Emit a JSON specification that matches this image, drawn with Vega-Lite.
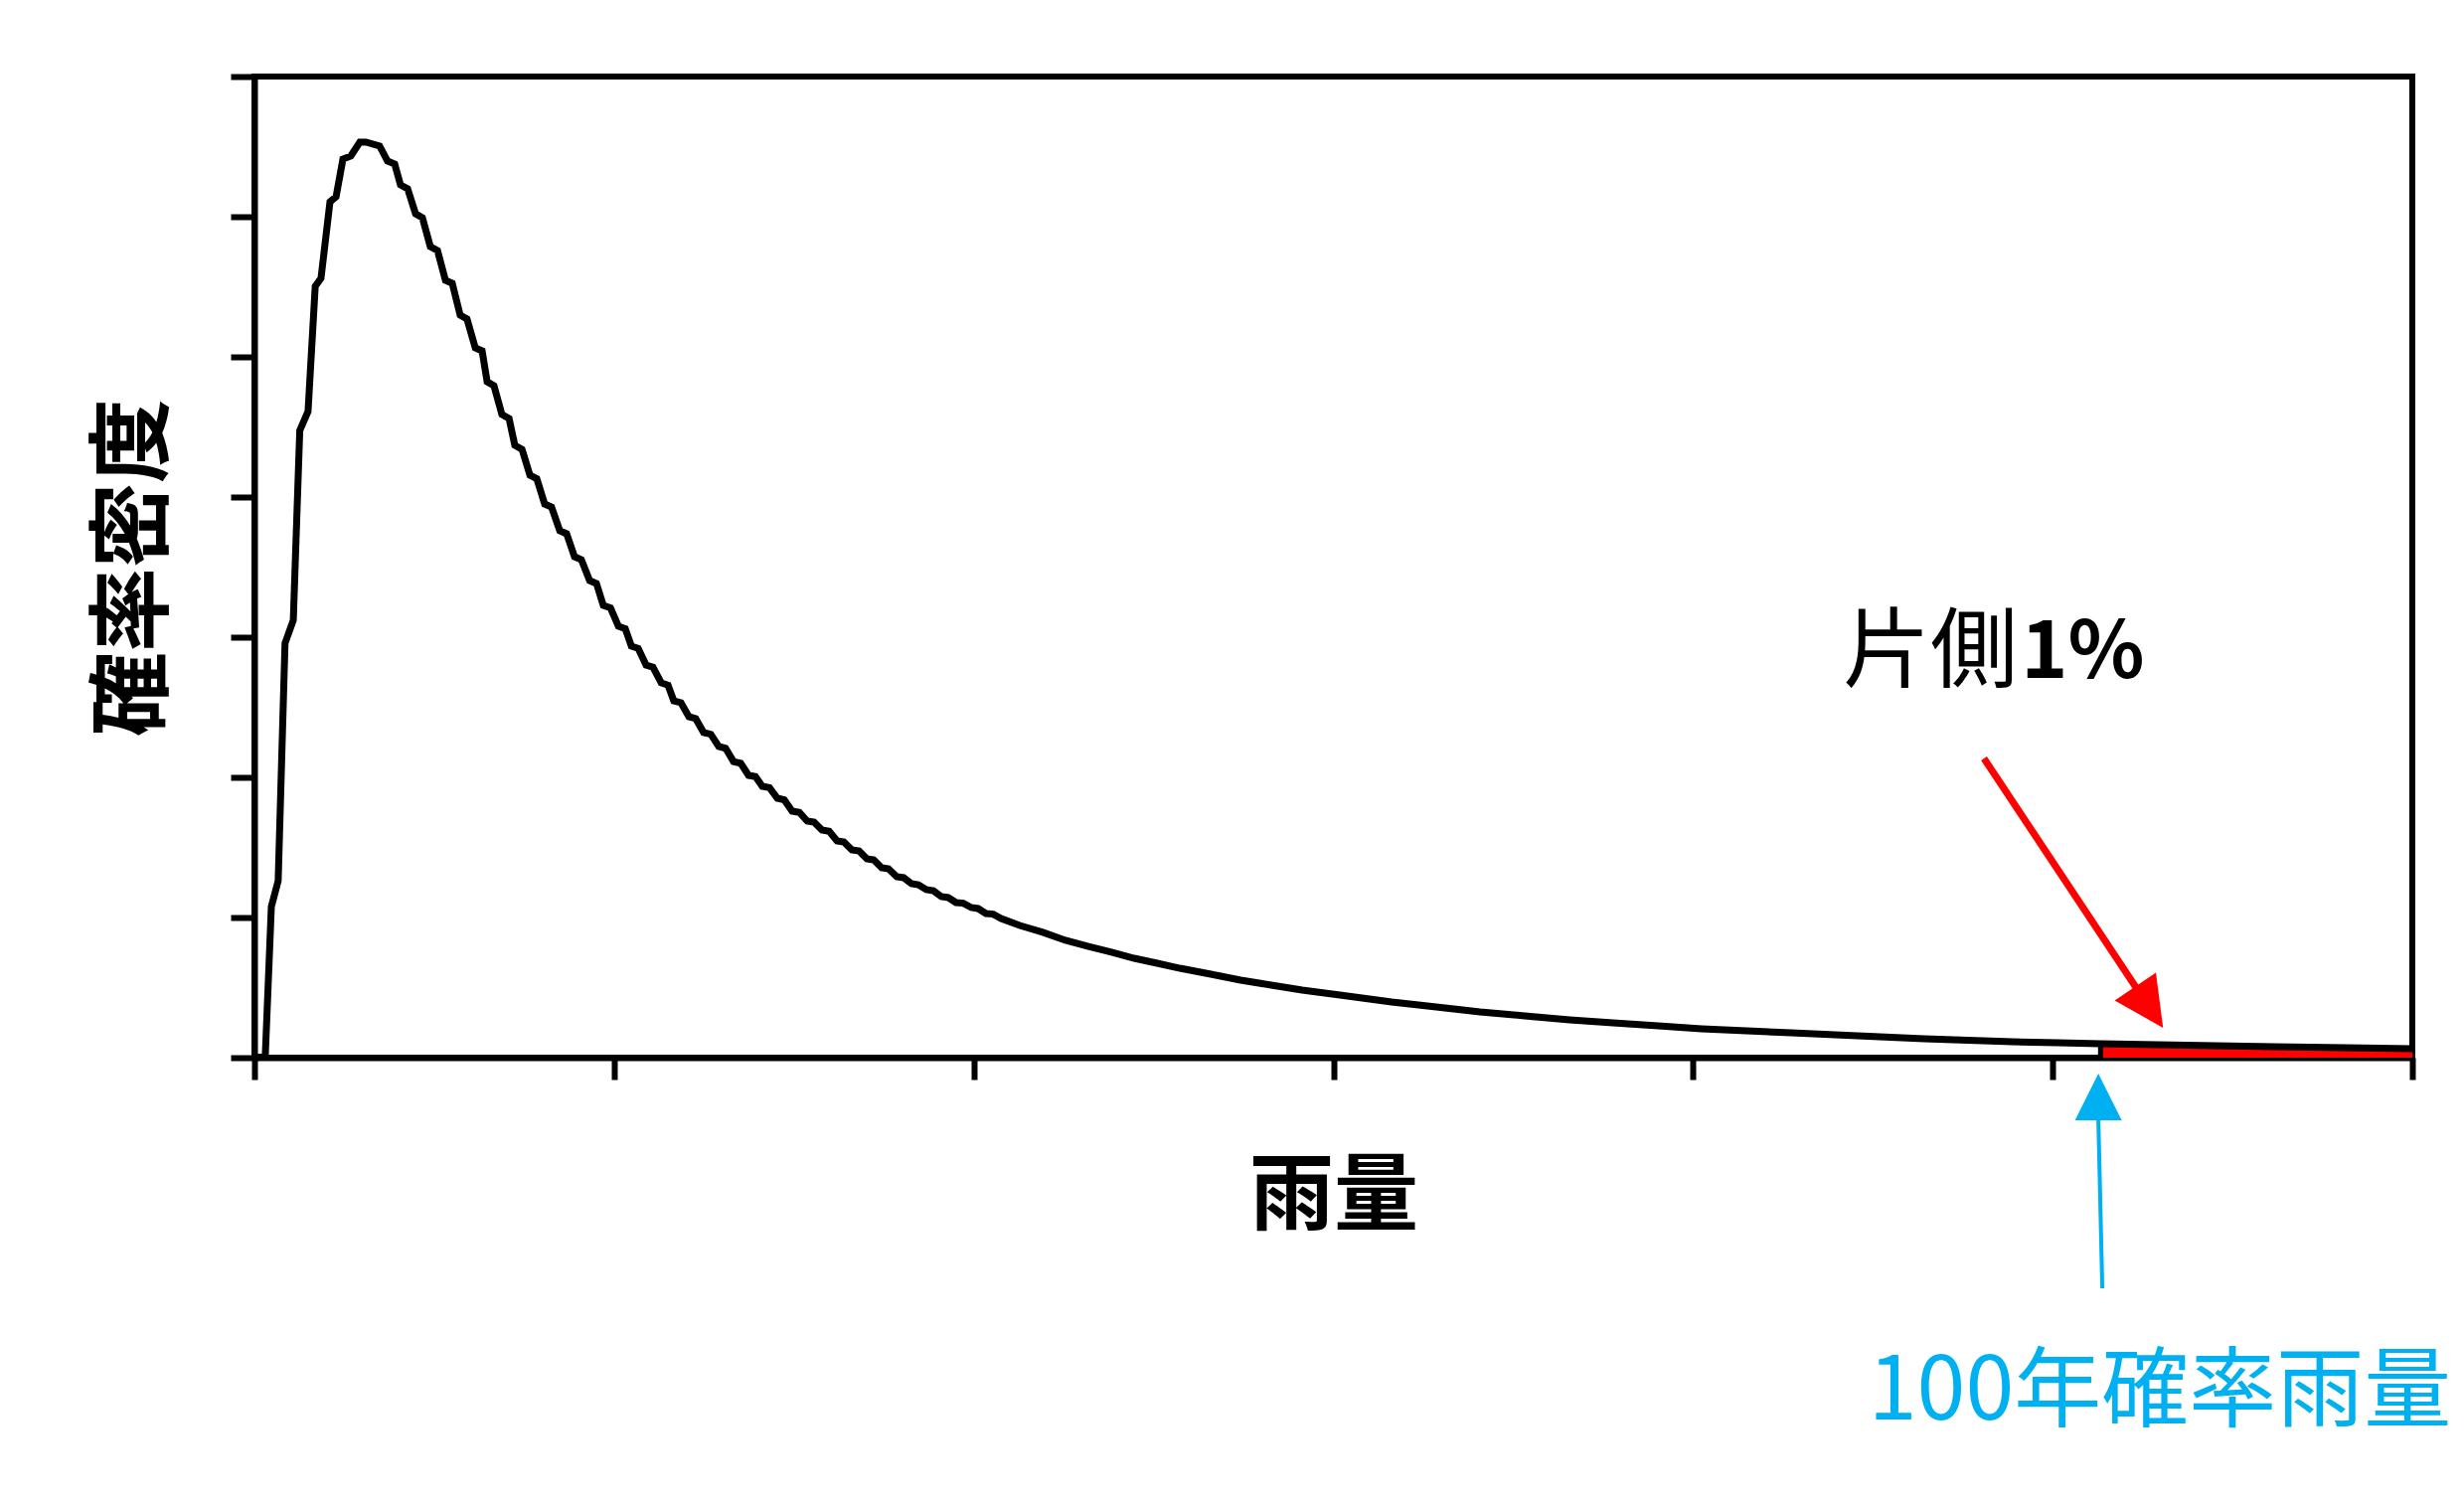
{
  "$schema": "https://vega.github.io/schema/vega-lite/v6.json",
  "width": 2171,
  "height": 987,
  "autosize": {"type": "none"},
  "padding": {"left": 256, "top": 77, "right": 52, "bottom": 446},
  "background": "white",
  "config": {
    "font": "Noto Sans CJK JP",
    "view": {"stroke": "black", "strokeWidth": 6}
  },
  "datasets": {
    "curve": [
      {"x":0,"y":0},{"x":0.030,"y":0.007},{"x":0.047,"y":1.078},{"x":0.066,"y":1.262},{"x":0.085,"y":2.957},{"x":0.108,"y":3.121},
      {"x":0.126,"y":4.475},{"x":0.149,"y":4.610},{"x":0.169,"y":5.504},{"x":0.185,"y":5.560},{"x":0.210,"y":6.106},{"x":0.227,"y":6.142},
      {"x":0.246,"y":6.411},{"x":0.268,"y":6.433},{"x":0.293,"y":6.532},{"x":0.310,"y":6.532},{"x":0.348,"y":6.504},{"x":0.370,"y":6.397},
      {"x":0.390,"y":6.376},{"x":0.406,"y":6.227},{"x":0.426,"y":6.199},{"x":0.448,"y":6.021},{"x":0.467,"y":5.993},{"x":0.489,"y":5.787},
      {"x":0.509,"y":5.759},{"x":0.531,"y":5.546},{"x":0.550,"y":5.525},{"x":0.572,"y":5.298},{"x":0.591,"y":5.270},{"x":0.614,"y":5.064},
      {"x":0.633,"y":5.043},{"x":0.647,"y":4.823},{"x":0.666,"y":4.794},{"x":0.688,"y":4.589},{"x":0.708,"y":4.560},{"x":0.724,"y":4.369},
      {"x":0.744,"y":4.340},{"x":0.766,"y":4.156},{"x":0.785,"y":4.131},{"x":0.807,"y":3.950},{"x":0.826,"y":3.929},{"x":0.849,"y":3.759},
      {"x":0.868,"y":3.738},{"x":0.890,"y":3.574},{"x":0.909,"y":3.553},{"x":0.932,"y":3.404},{"x":0.951,"y":3.383},{"x":0.970,"y":3.227},
      {"x":0.990,"y":3.209},{"x":1.012,"y":3.078},{"x":1.031,"y":3.061},{"x":1.048,"y":2.936},{"x":1.067,"y":2.920},{"x":1.089,"y":2.801},
      {"x":1.108,"y":2.786},{"x":1.131,"y":2.674},{"x":1.150,"y":2.658},{"x":1.166,"y":2.546},{"x":1.186,"y":2.532},{"x":1.208,"y":2.433},
      {"x":1.227,"y":2.419},{"x":1.249,"y":2.319},{"x":1.269,"y":2.307},{"x":1.291,"y":2.220},{"x":1.310,"y":2.207},{"x":1.332,"y":2.113},
      {"x":1.352,"y":2.101},{"x":1.374,"y":2.014},{"x":1.393,"y":2.005},{"x":1.412,"y":1.936},{"x":1.432,"y":1.926},{"x":1.454,"y":1.851},
      {"x":1.473,"y":1.840},{"x":1.495,"y":1.759},{"x":1.515,"y":1.750},{"x":1.537,"y":1.688},{"x":1.556,"y":1.681},{"x":1.578,"y":1.624},
      {"x":1.598,"y":1.615},{"x":1.620,"y":1.546},{"x":1.639,"y":1.539},{"x":1.661,"y":1.482},{"x":1.681,"y":1.475},{"x":1.703,"y":1.418},
      {"x":1.722,"y":1.411},{"x":1.744,"y":1.355},{"x":1.763,"y":1.348},{"x":1.786,"y":1.291},{"x":1.805,"y":1.284},{"x":1.827,"y":1.241},
      {"x":1.846,"y":1.234},{"x":1.868,"y":1.199},{"x":1.888,"y":1.191},{"x":1.910,"y":1.149},{"x":1.929,"y":1.142},{"x":1.951,"y":1.106},
      {"x":1.971,"y":1.102},{"x":1.993,"y":1.071},{"x":2.012,"y":1.064},{"x":2.034,"y":1.028},{"x":2.054,"y":1.024},{"x":2.076,"y":0.993},
      {"x":2.128,"y":0.943},{"x":2.192,"y":0.894},{"x":2.255,"y":0.837},{"x":2.319,"y":0.794},{"x":2.383,"y":0.752},{"x":2.446,"y":0.709},
      {"x":2.510,"y":0.674},{"x":2.573,"y":0.638},{"x":2.659,"y":0.596},{"x":2.742,"y":0.553},{"x":2.827,"y":0.518},{"x":2.913,"y":0.482},
      {"x":3.018,"y":0.447},{"x":3.162,"y":0.397},{"x":3.286,"y":0.362},{"x":3.408,"y":0.326},{"x":3.532,"y":0.298},{"x":3.657,"y":0.270},
      {"x":3.778,"y":0.248},{"x":3.903,"y":0.227},{"x":4.024,"y":0.206},{"x":4.149,"y":0.191},{"x":4.273,"y":0.177},{"x":4.395,"y":0.163},
      {"x":4.519,"y":0.149},{"x":4.643,"y":0.135},{"x":4.765,"y":0.124},{"x":4.889,"y":0.113},{"x":5.014,"y":0.106},{"x":5.133,"y":0.099},
      {"x":5.373,"y":0.089},{"x":5.616,"y":0.078},{"x":5.815,"y":0.071},{"x":6.0,"y":0.064}
    ],
    "tail": [
      {"x":5.133,"y":0.099},{"x":5.373,"y":0.089},{"x":5.616,"y":0.078},{"x":5.815,"y":0.071},{"x":6.0,"y":0.064}
    ],
    "edge": [{"x":5.133,"y":0,"y2":0.099}],
    "redShaft": [{"x":4.809,"y":2.135,"x2":5.232,"y2":0.500}],
    "redHead": [{"x":5.307,"y":0.213}],
    "blueShaft": [{"x":5.127,"y":-0.44,"x2":5.138,"y2":-1.645}],
    "blueHead": [{"x":5.127,"y":-0.113}],
    "labelTail": [{"x":4.903,"y":2.876,"label":"片側"}],
    "labelPct": [{"x":4.912,"y":2.876,"label":"1%"}],
    "labelReturn": [{"x":5.298,"y":-2.397,"label":"100年確率雨量"}]
  },
  "layer": [
    {
      "data": {"name": "tail"},
      "mark": {"type": "area", "color": "#FF0000", "opacity": 1},
      "encoding": {
        "x": {
          "field": "x", "type": "quantitative",
          "scale": {"domain": [0, 6], "nice": false, "zero": false},
          "axis": {
            "title": "雨量", "values": [0, 1, 2, 3, 4, 5, 6], "labels": false, "grid": false,
            "tickSize": 22, "tickWidth": 6, "tickColor": "black",
            "domainColor": "black", "domainWidth": 6,
            "titleFont": "Noto Sans CJK JP", "titleFontSize": 85, "titleFontWeight": "bold",
            "titleColor": "black", "titlePadding": 74
          }
        },
        "y": {
          "field": "y", "type": "quantitative",
          "scale": {"domain": [0, 7], "nice": false, "zero": false},
          "axis": {
            "title": "確率密度", "values": [0, 1, 2, 3, 4, 5, 6, 7], "labels": false, "grid": false,
            "tickSize": 24, "tickWidth": 6, "tickColor": "black",
            "domainColor": "black", "domainWidth": 6,
            "titleFont": "Noto Sans CJK JP", "titleFontSize": 85, "titleFontWeight": "bold",
            "titleColor": "black", "titlePadding": 50
          }
        }
      }
    },
    {
      "data": {"name": "edge"},
      "mark": {"type": "rule", "color": "black", "strokeWidth": 5},
      "encoding": {
        "x": {"field": "x", "type": "quantitative"},
        "y": {"field": "y", "type": "quantitative"},
        "y2": {"field": "y2"}
      }
    },
    {
      "data": {"name": "curve"},
      "mark": {"type": "line", "color": "black", "strokeWidth": 7},
      "encoding": {
        "x": {"field": "x", "type": "quantitative"},
        "y": {"field": "y", "type": "quantitative"}
      }
    },
    {
      "data": {"name": "redShaft"},
      "mark": {"type": "rule", "color": "#FF0000", "strokeWidth": 7},
      "encoding": {
        "x": {"field": "x", "type": "quantitative"},
        "y": {"field": "y", "type": "quantitative"},
        "x2": {"field": "x2"},
        "y2": {"field": "y2"}
      }
    },
    {
      "data": {"name": "redHead"},
      "mark": {"type": "point", "shape": "M0,0L-0.5,1L0.5,1Z", "filled": true, "color": "#FF0000", "opacity": 1, "size": 10000, "angle": 146, "strokeWidth": 0},
      "encoding": {
        "x": {"field": "x", "type": "quantitative"},
        "y": {"field": "y", "type": "quantitative"}
      }
    },
    {
      "data": {"name": "blueShaft"},
      "mark": {"type": "rule", "color": "#00B0F0", "strokeWidth": 4},
      "encoding": {
        "x": {"field": "x", "type": "quantitative"},
        "y": {"field": "y", "type": "quantitative"},
        "x2": {"field": "x2"},
        "y2": {"field": "y2"}
      }
    },
    {
      "data": {"name": "blueHead"},
      "mark": {"type": "point", "shape": "M0,0L-0.5,1L0.5,1Z", "filled": true, "color": "#00B0F0", "opacity": 1, "size": 8836, "angle": 0, "strokeWidth": 0},
      "encoding": {
        "x": {"field": "x", "type": "quantitative"},
        "y": {"field": "y", "type": "quantitative"}
      }
    },
    {
      "data": {"name": "labelTail"},
      "mark": {"type": "text", "font": "Noto Sans CJK JP", "fontSize": 88, "fontWeight": "normal", "color": "black", "align": "right", "baseline": "middle"},
      "encoding": {
        "x": {"field": "x", "type": "quantitative"},
        "y": {"field": "y", "type": "quantitative"},
        "text": {"field": "label"}
      }
    },
    {
      "data": {"name": "labelPct"},
      "mark": {"type": "text", "font": "Noto Sans CJK JP", "fontSize": 80, "fontWeight": "bold", "color": "black", "align": "left", "baseline": "middle"},
      "encoding": {
        "x": {"field": "x", "type": "quantitative"},
        "y": {"field": "y", "type": "quantitative"},
        "text": {"field": "label"}
      }
    },
    {
      "data": {"name": "labelReturn"},
      "mark": {"type": "text", "font": "Noto Sans CJK JP", "fontSize": 88, "fontWeight": "normal", "color": "#00B0F0", "align": "center", "baseline": "middle"},
      "encoding": {
        "x": {"field": "x", "type": "quantitative"},
        "y": {"field": "y", "type": "quantitative"},
        "text": {"field": "label"}
      }
    }
  ]
}
